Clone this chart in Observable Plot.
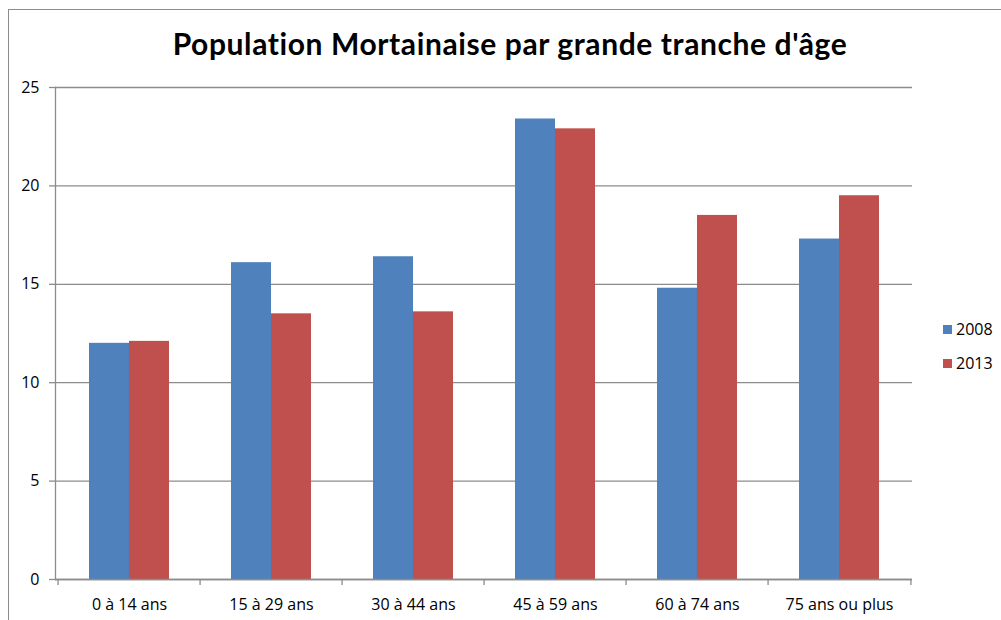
<!DOCTYPE html>
<html>
<head>
<meta charset="utf-8">
<script src="https://cdn.jsdelivr.net/npm/d3@7"></script>
<script src="https://cdn.jsdelivr.net/npm/@observablehq/plot@0.6"></script>
<style>
  html, body { margin: 0; padding: 0; background: #fff; overflow: hidden; }
  #wrap { position: relative; width: 1001px; height: 620px; overflow: hidden; background: #fff; }
  #border { position: absolute; left: 8px; top: 9px; width: 1100px; height: 800px; border-left: 1.5px solid #8c8c8c; border-top: 1.5px solid #8c8c8c; }
  #title { position: absolute; left: 510px; top: 28px; transform: translateX(-50%); white-space: nowrap;
           font-family: Lato, sans-serif; font-weight: bold; font-size: 30px; line-height: 30px; letter-spacing: 0.6px; color: #000; }
  #chart { position: absolute; left: 0; top: 0; }
  .leg { position: absolute; left: 943px; display: flex; align-items: center; font-family: "Open Sans", sans-serif; font-size: 16px; line-height: 20px; color: #000; }
  .leg .sw { width: 9px; height: 9px; margin-right: 4px; }
</style>
</head>
<body>
<div id="wrap">
  <div id="border"></div>
  <div id="chart"></div>
  <div id="title"></div>
  <div id="legend"></div>
</div>
<script>
const title = "Population Mortainaise par grande tranche d'âge";
const categories = ["0 à 14 ans", "15 à 29 ans", "30 à 44 ans", "45 à 59 ans", "60 à 74 ans", "75 ans ou plus"];
const seriesNames = ["2008", "2013"];
const values2008 = [12.0, 16.1, 16.4, 23.4, 14.8, 17.3];
const values2013 = [12.1, 13.5, 13.6, 22.9, 18.5, 19.5];
const yTicks = [0, 5, 10, 15, 20, 25];
const colors = ["#4F81BD", "#C0504D"];

const d2008 = categories.map((c, i) => ({cat: c, year: seriesNames[0], v: values2008[i]}));
const d2013 = categories.map((c, i) => ({cat: c, year: seriesNames[1], v: values2013[i]}));

const W = 1001, H = 620;
const mL = 55, mR = 89, mT = 87, mB = 41;
const innerW = W - mL - mR, innerH = H - mT - mB;
const step = innerW / categories.length;
const bandW = step * 0.56;
const grid = "#8c8c8c";

document.getElementById("title").textContent = title;

const plot = Plot.plot({
  width: W, height: H,
  marginLeft: mL, marginRight: mR, marginTop: mT, marginBottom: mB,
  style: {fontFamily: "'Open Sans', sans-serif", fontSize: "16px", color: "#000", background: "transparent", overflow: "visible"},
  x: {type: "band", domain: categories, paddingInner: 0.44, paddingOuter: 0.22, align: 0.5, label: null},
  y: {domain: [0, 25], label: null},
  marks: [
    Plot.gridY(yTicks, {stroke: grid, strokeOpacity: 1, strokeWidth: 1.3}),
    Plot.barY(d2008, {x: "cat", y: "v", fill: colors[0], insetRight: bandW / 2}),
    Plot.barY(d2013, {x: "cat", y: "v", fill: colors[1], insetLeft: bandW / 2}),
    Plot.ruleY([0], {stroke: grid, strokeWidth: 1.3}),
    Plot.frame({anchor: "left", stroke: grid, strokeWidth: 1.3}),
    Plot.ruleX(categories, {x: d => d, dx: -step / 2, insetTop: innerH, insetBottom: -6, stroke: grid, strokeWidth: 1.3}),
    Plot.ruleX(categories.slice(-1), {x: d => d, dx: step / 2, insetTop: innerH, insetBottom: -6, stroke: grid, strokeWidth: 1.3}),
    Plot.axisY(yTicks, {tickSize: 6, tickPadding: 10, stroke: grid, strokeWidth: 1.3, fill: "#000", label: null}),
    Plot.axisX({tickSize: 0, tickPadding: 19, fill: "#000", label: null})
  ]
});
document.getElementById("chart").appendChild(plot);

const legend = document.getElementById("legend");
const legTops = [319, 353];
seriesNames.forEach((name, i) => {
  const row = document.createElement("div");
  row.className = "leg";
  row.style.top = legTops[i] + "px";
  const sw = document.createElement("div");
  sw.className = "sw";
  sw.style.background = colors[i];
  const t = document.createElement("span");
  t.textContent = name;
  row.appendChild(sw);
  row.appendChild(t);
  legend.appendChild(row);
});
</script>
</body>
</html>
